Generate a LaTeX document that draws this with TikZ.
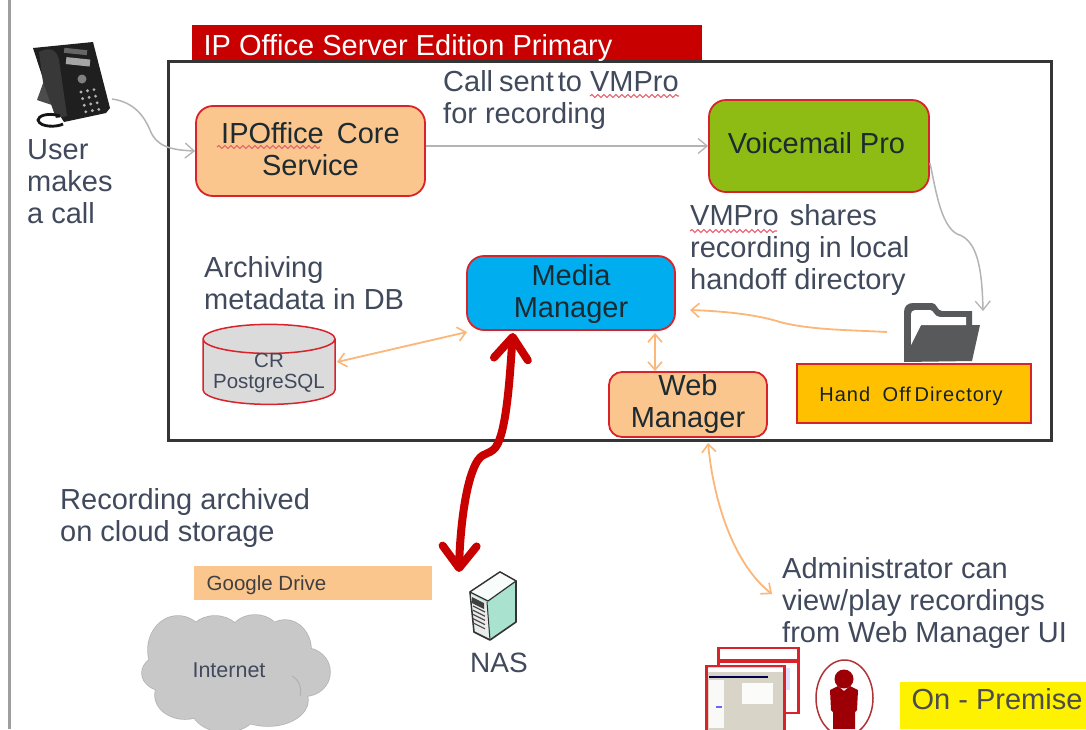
\documentclass[tikz,border=0pt]{standalone}
\usepackage{fontspec}
\setmainfont{Liberation Sans}
\usetikzlibrary{arrows.meta,shapes.geometric,decorations.pathmorphing,calc}
\definecolor{txt}{HTML}{414A5C}
\definecolor{dtxt}{HTML}{1D2A30}
\definecolor{redline}{HTML}{D9232B}
\definecolor{peach}{HTML}{FBC68D}
\definecolor{gline}{HTML}{B4B4B4}
\definecolor{oline}{HTML}{FBB678}
\definecolor{dred}{HTML}{C80000}
\definecolor{frame}{HTML}{353535}
\definecolor{mar}{HTML}{9C0006}
\definecolor{folderc}{HTML}{58595B}
\definecolor{vmgreen}{HTML}{8FBC14}
\definecolor{mmblue}{HTML}{00AEEF}
\definecolor{hoyellow}{HTML}{FFC000}
\definecolor{cloudc}{HTML}{C8C8C8}
\definecolor{teal}{HTML}{A9E2CE}
\definecolor{scr}{HTML}{D8D4C8}
\definecolor{squigc}{HTML}{E8606E}
\newcommand{\shiftt}[2]{\raisebox{#1}[0pt][0pt]{#2}}
\newcommand{\rows}[3]{\shiftt{#1}{\begin{tabular}{@{}c@{}}#2\\#3\end{tabular}}}
\newcommand{\bigt}{\fontsize{29}{32}\selectfont}
\tikzset{
  x=1pt,y=-1pt,
  lab/.style={anchor=west,inner sep=0pt,text=txt,align=left,font=\bigt},
  boxn/.style={draw=redline,line width=1.8pt,rounded corners=17pt,inner sep=0pt,text=dtxt,font=\bigt,align=center},
  gcon/.style={draw=gline,line width=1.5pt,-{Straight Barb[length=9pt,width=15pt,line width=1.3pt]}},
  ocon/.style={draw=oline,line width=1.8pt,{Straight Barb[length=8pt,width=14pt,line width=1.6pt]}-{Straight Barb[length=8pt,width=14pt,line width=1.6pt]}},
  ocone/.style={draw=oline,line width=1.8pt,-{Straight Barb[length=8pt,width=14pt,line width=1.6pt]}},
  squig/.style={draw=squigc,line width=1.1pt,decorate,decoration={snake,amplitude=1.4pt,segment length=6pt}},
}
\begin{document}
\begin{tikzpicture}
\useasboundingbox (0,0) rectangle (1086,729);
\clip (0,0) rectangle (1086,729);
\fill[white] (0,0) rectangle (1086,729);
% left rule
\fill[black!38] (8,0) rectangle (11,729);
% server frame
\node[draw=frame,line width=3pt,minimum width=883pt,minimum height=379pt,inner sep=0pt] (frame) at (609.5,250.5) {};
\node[fill=dred,text=white,font=\fontsize{29}{32}\selectfont,minimum width=510pt,minimum height=35pt,inner sep=0pt] (title) at (447,42.5) {\hspace{-78pt}\shiftt{-12.5pt}{IP Office Server Edition Primary}};
% phone
\coordinate (phoneout) at (112,99);
\fill[black!88] (33,48) -- (93,42) -- (110,108) -- (106,113) -- (64,122) -- (50,100) -- cycle;
\fill[black!70] (37,100) -- (46,75) -- (52,105) -- cycle;
\fill[black!78] (39,52) .. controls (50,46) and (57,50) .. (59,60) -- (67,116) -- (56,118) -- (43,82) -- cycle;
\draw[black!92,line width=2.8pt] (60,116) .. controls (48,112) and (38,116) .. (38,120) .. controls (40,128) and (58,127) .. (63,124);
\fill[black!35,rotate around={-6:(75,62)}] (66,58) rectangle (90,65);
\fill[black!60,rotate around={-6:(75,62)}] (63,49) rectangle (86,54);
\fill[black!50] (82,79) circle (4.5);
\foreach \r in {0,1,2,3}\foreach \c in {0,1,2}
  \fill[black!30] ($(81,92)+\c*(6.5,-1.2)+\r*(1.6,6.6)$) circle (1.6);
\node[lab] (user) at (27,182) {User\\makes\\a call};
% boxes
\node[boxn,fill=peach,minimum width=229pt,minimum height=90pt] (ipo) at (310.5,151) {\rows{-8pt}{IPOffice\hspace{5pt} Core}{Service}};
\node[boxn,fill=vmgreen,minimum width=220pt,minimum height=92pt] (vm) at (819,146) {\hspace{-5pt}\shiftt{-7pt}{Voicemail Pro}};
\node[boxn,fill=mmblue,minimum width=208pt,minimum height=74pt] (mm) at (571,293) {\rows{-8pt}{Media}{Manager}};
\node[boxn,fill=peach,minimum width=158pt,minimum height=65pt,rounded corners=13pt] (web) at (688,404.5) {\rows{-6.5pt}{Web}{Manager}};
\node[draw=redline,line width=1.8pt,fill=hoyellow,minimum width=234pt,minimum height=59pt,inner sep=0pt,text=dtxt!80!black,font=\fontsize{20}{24}\selectfont\addfontfeature{LetterSpace=5}] (hand) at (914,393.5) {\hspace{-6pt}\shiftt{-7.5pt}{Hand\hspace{6pt} Off\hspace{-3pt} Directory}};
\node[cylinder,shape border rotate=90,aspect=0.26,draw=redline,line width=1.5pt,fill=black!14,minimum width=132pt,minimum height=80pt,inner sep=0pt,text=txt,font=\fontsize{20.5}{21}\selectfont,align=center] (db) at (269,372) {\rows{-7pt}{CR}{PostgreSQL}};
% folder
\fill[folderc] (904,362) -- (904,312) .. controls (904,306) and (908,303) .. (913,303) -- (932,303) .. controls (937,303) and (937,311) .. (942,311) -- (972,311) -- (972,325) -- (980,325) -- (972,361) -- cycle;
\fill[white] (911,345) -- (911,316) .. controls (911,312) and (912,310) .. (915,310) -- (930,310) .. controls (934,310) and (934,317) .. (940,317) -- (966,317) -- (966,325) -- (921,325) -- cycle;
\coordinate (folderin) at (983,311);
\coordinate (folderout) at (887,332);
% text labels
\node[lab] (calltxt) at (443,100) {Call\hspace{6pt}sent\hspace{4pt}to\hspace{8pt}VMPro\\for recording};
\node[lab] (vmtxt) at (690,250) {VMPro\hspace{3pt} shares\\recording in local\\handoff directory};
\node[lab] (archtxt) at (204,283) {Archiving\\metadata in DB};
\node[lab] (rectxt) at (60,518) {Recording archived\\on cloud storage};
\node[lab] (admtxt) at (782,603) {Administrator can\\view/play recordings\\from Web Manager UI};
\draw[squig] (217,147) -- (320,147);
\draw[squig] (590,96) -- (679,96);
\draw[squig] (690,231) -- (777,231);
% connectors
\draw[gcon] (phoneout) .. controls (135,102) and (145,118) .. (150,130) .. controls (156,146) and (170,150) .. (ipo.west);
\draw[gcon] ([yshift=5pt]ipo.east) -- (vm.west);
\draw[gcon] ([yshift=-17pt]vm.east) .. controls (935,185) and (940,225) .. (957,234) .. controls (978,240) and (982,270) .. (folderin);
\coordinate (mmin) at (690,310);
\draw[ocone] (folderout) .. controls (850,330) and (810,330) .. (780,322) .. controls (755,314) and (720,311) .. (mmin);
\coordinate (dbe) at (337,362);
\coordinate (mmw) at (467,332);
\draw[ocon] (dbe) -- (mmw);
\coordinate (mms) at (655,333);
\coordinate (webn) at (655,371);
\draw[ocon] (mms) -- (webn);
\coordinate (webs) at (708,443);
\coordinate (adm) at (772,594);
\draw[ocon] (webs) .. controls (714,505) and (735,565) .. (adm);
\coordinate (mmbot) at (513,333);
\coordinate (nastop) at (459,572);
\draw[dred,line width=8pt,{Straight Barb[length=22pt,width=34pt,line width=8pt,round]}-{Straight Barb[length=22pt,width=34pt,line width=8pt,round]}] (mmbot) .. controls (510,370) and (507,440) .. (493,450) .. controls (485,456) and (480,452) .. (473,470) .. controls (465,490) and (460,530) .. (nastop);
% google drive
\node[fill=peach,minimum width=238pt,minimum height=34pt,inner sep=0pt,text=black!75,font=\fontsize{20.5}{22}\selectfont] (gd) at (313,583) {\hspace{-93pt}\shiftt{-7pt}{Google Drive}};
% cloud
\def\blobs{(178,650) ellipse (30 and 34) (215,640) ellipse (28 and 24) (255,637) ellipse (26 and 22) (285,650) ellipse (26 and 30) (165,673) ellipse (23 and 18) (305,672) ellipse (25 and 24) (185,695) ellipse (30 and 24) (225,705) ellipse (35 and 27) (268,700) ellipse (40 and 26) (235,665) ellipse (70 and 40)}
\draw[black!30,line width=1.5pt] \blobs;
\fill[cloudc] \blobs;
\draw[black!30,line width=1pt] (292,676) .. controls (300,680) and (302,690) .. (300,696);
\node[text=txt,font=\fontsize{21.5}{24}\selectfont,inner sep=0pt] (inet) at (229,670) {Internet};
% NAS server
\draw[black!80,line width=1.6pt,line join=round,fill=teal] (470,592) -- (500,572) -- (516,581) -- (516,622) -- (490,640) -- (474,632) -- cycle;
\draw[black!80,line width=1.2pt,line join=round,fill=white!92!teal] (470,592) -- (500,572) -- (516,581) -- (488,601) -- cycle;
\fill[black!8] (471,594) -- (487,603) -- (489,638) -- (475,631) -- cycle;
\draw[black!80,line width=1pt] (487,602) -- (490,640);
\fill[black!75] (472,597) -- (484,603) -- (484,609) -- (472,603) -- cycle;
\foreach \i in {0,1,2,3,4}
  \draw[black!70,line width=1.2pt] (473,606+\i*4.2) -- (485,612+\i*4.2);
\node[lab,font=\fontsize{28}{32}\selectfont] (nas) at (470,663) {NAS};
% screens
\node[draw=redline,line width=2.5pt,fill=white,minimum width=80pt,minimum height=65pt,inner sep=0pt] (scrback) at (758.5,680.5) {};
\fill[redline] (719,659) rectangle (798,663);
\fill[blue!12] (770,668) rectangle (790,690);
\node[draw=redline,line width=2.5pt,fill=scr,minimum width=78pt,minimum height=70pt,inner sep=0pt] (scrfront) at (745.5,701) {};
\fill[white] (708,668) rectangle (783,672);
\fill[black!70!blue] (709,676) rectangle (768,678);
\fill[white!85!scr] (709,680) rectangle (724,728);
\fill[white!90!scr] (742,683) rectangle (773,704);
\fill[blue!60] (716,706) rectangle (722,708);
% person
\draw[mar!80!white,line width=1.5pt] (844.5,698) ellipse (28.5 and 38);
\fill[mar] (844,679) circle (9.5);
\fill[mar] (830,690) -- (838,686) -- (844,691) -- (850,686) -- (858,690) -- (857,710) -- (855,712) -- (855,729) -- (833,729) -- (833,712) -- (831,710) -- cycle;
% on-premise
\node[fill=yellow,minimum width=186pt,minimum height=47pt,inner sep=0pt,text=black!70,font=\bigt] (prem) at (993,705.5) {\hspace{8pt}\shiftt{-3.5pt}{On - Premise}};
\end{tikzpicture}
\end{document}
